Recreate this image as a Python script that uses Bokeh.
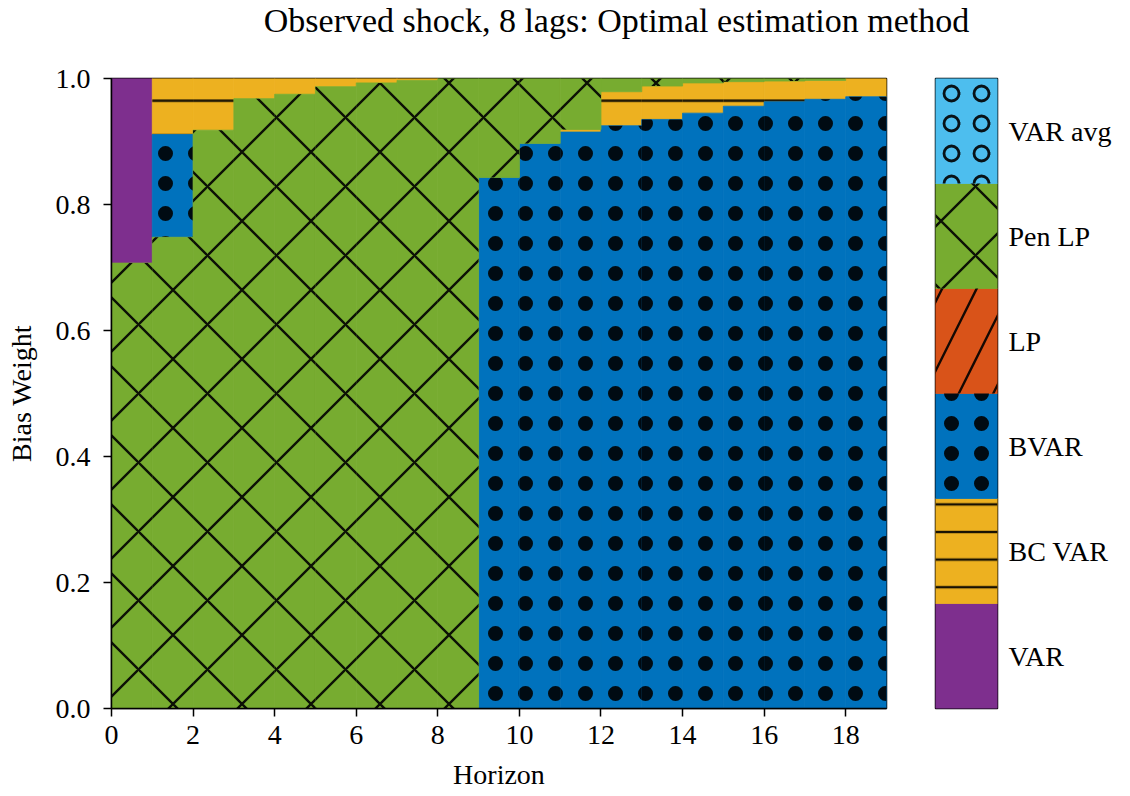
from bokeh.plotting import figure
from bokeh.models import Range1d, ColumnDataSource, FixedTicker, PrintfTickFormatter
from bokeh.layouts import row, column
from bokeh.core.properties import value
from bokeh.embed import file_html
from bokeh.resources import INLINE

# ---------------- data ----------------
title_text = "Observed shock, 8 lags: Optimal estimation method"
methods = ["VAR", "BC VAR", "BVAR", "LP", "Pen LP", "VAR avg"]
method_colors = ["#7E2F8E", "#EDB120", "#0072BD", "#D95319", "#77AC30", "#4DBEEE"]
method_hatches = ["blank", "horizontal_line", "dot", "right_diagonal_line", "diagonal_cross", "ring"]

x_ticks = [0, 2, 4, 6, 8, 10, 12, 14, 16, 18]
y_ticks = [0.0, 0.2, 0.4, 0.6, 0.8, 1.0]

# optimal-method segments: horizon, method, lower / upper bias weight
seg_horizon = [0, 0,
               1, 1, 1,
               2, 2, 3, 3, 4, 4, 5, 5, 6, 6, 7, 7,
               8,
               9, 9, 10, 10,
               11, 11, 11, 12, 12, 12, 13, 13, 13, 14, 14, 14,
               15, 15, 15, 16, 16, 16, 17, 17, 17,
               18, 18]
seg_method = ["Pen LP", "VAR",
              "Pen LP", "BVAR", "BC VAR",
              "Pen LP", "BC VAR", "Pen LP", "BC VAR", "Pen LP", "BC VAR",
              "Pen LP", "BC VAR", "Pen LP", "BC VAR", "Pen LP", "BC VAR",
              "Pen LP",
              "BVAR", "Pen LP", "BVAR", "Pen LP",
              "BVAR", "BC VAR", "Pen LP", "BVAR", "BC VAR", "Pen LP",
              "BVAR", "BC VAR", "Pen LP", "BVAR", "BC VAR", "Pen LP",
              "BVAR", "BC VAR", "Pen LP", "BVAR", "BC VAR", "Pen LP",
              "BVAR", "BC VAR", "Pen LP",
              "BVAR", "BC VAR"]
seg_lo = [0.0, 0.707,
          0.0, 0.748, 0.911,
          0.0, 0.918, 0.0, 0.968, 0.0, 0.975, 0.0, 0.987, 0.0, 0.993, 0.0, 0.997,
          0.0,
          0.0, 0.843, 0.0, 0.897,
          0.0, 0.915, 0.919, 0.0, 0.925, 0.979, 0.0, 0.935, 0.988, 0.0, 0.945, 0.993,
          0.0, 0.956, 0.995, 0.0, 0.963, 0.996, 0.0, 0.967, 0.997,
          0.0, 0.971]
seg_hi = [0.707, 1.0,
          0.748, 0.911, 1.0,
          0.918, 1.0, 0.968, 1.0, 0.975, 1.0, 0.987, 1.0, 0.993, 1.0, 0.997, 1.0,
          1.0,
          0.843, 1.0, 0.897, 1.0,
          0.915, 0.919, 1.0, 0.925, 0.979, 1.0, 0.935, 0.988, 1.0, 0.945, 0.993, 1.0,
          0.956, 0.995, 1.0, 0.963, 0.996, 1.0, 0.967, 0.997, 1.0,
          0.971, 1.0]

# ---------------- styles ----------------
FONT = "Liberation Serif"
hatch_scales = {"horizontal_line": 34.5, "dot": 30.0, "diagonal_cross": 69.0,
                "right_diagonal_line": 69.0, "ring": 30.0, "blank": 12.0}
hatch_weights = {"horizontal_line": 2.4, "dot": 1.0, "diagonal_cross": 2.4,
                 "right_diagonal_line": 2.4, "ring": 2.8, "blank": 1.0}
cbar_scale_factor = {"horizontal_line": 0.8}

HEADER_H = 48
TOTAL_W = 1116

header = figure(width=TOTAL_W, height=HEADER_H, title=None,
                x_range=Range1d(0, TOTAL_W), y_range=Range1d(0, HEADER_H),
                x_axis_location=None, y_axis_location=None,
                min_border=0, output_backend="svg", toolbar_location=None,
                outline_line_color=None, background_fill_color="white",
                border_fill_color="white")
header.xgrid.visible = False
header.ygrid.visible = False
header.text(x=[616], y=[HEADER_H - 19.5], text=[title_text],
            text_font=value(FONT), text_font_size="34px",
            text_align="center", text_baseline="middle", text_color="black")

p = figure(frame_width=775, frame_height=630,
           x_range=Range1d(0, 19), y_range=Range1d(0, 1),
           output_backend="svg", toolbar_location=None, title=None,
           min_border_left=111, min_border_right=20,
           min_border_top=78 - HEADER_H, min_border_bottom=70,
           background_fill_color="white", border_fill_color="white")

for m, col, hp in zip(methods, method_colors, method_hatches):
    idx = [i for i, mm in enumerate(seg_method) if mm == m]
    if not idx:
        continue
    src = ColumnDataSource(dict(
        left=[seg_horizon[i] for i in idx],
        right=[seg_horizon[i] + 1 for i in idx],
        bottom=[seg_lo[i] for i in idx],
        top=[seg_hi[i] for i in idx]))
    # solid fill
    p.quad(left="left", right="right", bottom="bottom", top="top", source=src,
           fill_color=col, line_color=col, line_width=0.8)
    # hatch overlay
    if hp != "blank":
        p.quad(left="left", right="right", bottom="bottom", top="top", source=src,
               fill_alpha=0, line_color=None,
               hatch_pattern=hp, hatch_color="black",
               hatch_alpha=0.9, hatch_scale=hatch_scales[hp],
               hatch_weight=hatch_weights[hp])

p.xgrid.visible = False
p.ygrid.visible = False
p.outline_line_color = "black"
p.outline_line_width = 1.5
p.outline_line_alpha = 1.0

p.xaxis.ticker = FixedTicker(ticks=x_ticks)
p.yaxis.ticker = FixedTicker(ticks=y_ticks)
p.yaxis.formatter = PrintfTickFormatter(format="%.1f")
for ax in (p.xaxis, p.yaxis):
    ax.axis_line_color = "black"
    ax.axis_line_width = 1.5
    ax.major_tick_line_color = "black"
    ax.major_tick_line_width = 1.5
    ax.major_tick_out = 8
    ax.major_tick_in = 0
    ax.minor_tick_line_color = None
    ax.major_label_text_font = FONT
    ax.major_label_text_font_size = "28px"
    ax.major_label_text_color = "black"
    ax.axis_label_text_font = FONT
    ax.axis_label_text_font_size = "28px"
    ax.axis_label_text_font_style = "normal"
    ax.axis_label_text_color = "black"
p.xaxis.axis_label = "Horizon"
p.yaxis.axis_label = "Bias Weight"
p.yaxis.major_label_standoff = 13
p.xaxis.major_label_standoff = 9
p.xaxis.axis_label_standoff = 12
p.yaxis.axis_label_standoff = 16

# ---------------- colour bar legend ----------------
cb_src = ColumnDataSource(dict(
    bottom=list(range(len(methods))),
    top=[i + 1 for i in range(len(methods))],
    color=method_colors,
    hatch=[h if h != "blank" else " " for h in method_hatches],
    hscale=[hatch_scales[h] * cbar_scale_factor.get(h, 1.0) for h in method_hatches],
    hweight=[hatch_weights[h] for h in method_hatches]))

cbar = figure(frame_width=62, frame_height=630,
              x_range=Range1d(0, 1), y_range=Range1d(0, len(methods)),
              output_backend="svg", toolbar_location=None, title=None,
              x_axis_location=None, y_axis_location="right",
              min_border_left=29, min_border_right=2,
              min_border_top=78 - HEADER_H, min_border_bottom=70,
              background_fill_color="white", border_fill_color="white")
cbar.quad(left=0, right=1, bottom="bottom", top="top", source=cb_src,
          fill_color="color", line_color="color", line_width=0.8)
cbar.quad(left=0, right=1, bottom="bottom", top="top", source=cb_src,
          fill_alpha=0, line_color=None,
          hatch_pattern="hatch", hatch_color="black",
          hatch_alpha=0.9, hatch_scale="hscale", hatch_weight="hweight")
cbar.xgrid.visible = False
cbar.ygrid.visible = False
cbar.outline_line_color = "black"
cbar.outline_line_width = 1.5
cbar.outline_line_alpha = 1.0
cbar.yaxis.ticker = FixedTicker(ticks=[i + 0.5 for i in range(len(methods))])
cbar.yaxis.major_label_overrides = {i + 0.5: m for i, m in enumerate(methods)}
cbar.yaxis.axis_line_color = None
cbar.yaxis.major_tick_line_color = None
cbar.yaxis.major_tick_out = 0
cbar.yaxis.major_tick_in = 0
cbar.yaxis.minor_tick_line_color = None
cbar.yaxis.major_label_standoff = 11
cbar.yaxis.major_label_text_font = FONT
cbar.yaxis.major_label_text_font_size = "28px"
cbar.yaxis.major_label_text_color = "black"

layout = column(header, row(p, cbar))
open("out.html", "w").write(file_html(layout, INLINE))
